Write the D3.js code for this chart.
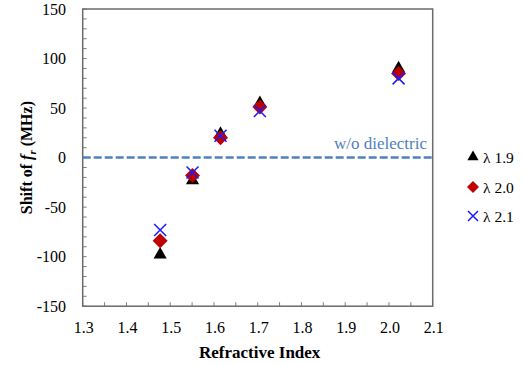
<!DOCTYPE html>
<html><head><meta charset="utf-8">
<script src="https://cdn.jsdelivr.net/npm/d3@7"></script>
</head><body style="margin:0">
<script>
const refractiveIndex = [1.477, 1.551, 1.615, 1.705, 2.022];
const lambda19 = [-97, -22, 25, 56, 91];
const lambda20 = [-84, -18, 20, 51, 85];
const lambda21 = [-73, -15, 22, 47, 80];
const seriesNames = ["λ 1.9", "λ 2.0", "λ 2.1"];
const xTicks = [1.3, 1.4, 1.5, 1.6, 1.7, 1.8, 1.9, 2.0, 2.1];
const yTicks = [-150, -100, -50, 0, 50, 100, 150];
const baseline = 0;
const baselineLabel = "w/o dielectric";

const W = 525, H = 365;
const FONT = '"Liberation Serif"';
const svg = d3.select("body").append("svg").attr("width", W).attr("height", H).style("display", "block");
const x = d3.scaleLinear().domain([1.3, 2.1]).range([82.7, 432.7]);
const y = d3.scaleLinear().domain([-150, 150]).range([306.2, 9]);

// minor ticks (inside)
const g = svg.append("g");
const xMinor = d3.range(1.3, 2.1001, 0.05);
const yMinor = d3.range(-150, 150.001, 10);
g.selectAll(".xt").data(xMinor).join("line")
  .attr("x1", d => x(d)).attr("x2", d => x(d))
  .attr("y1", y(-150)).attr("y2", y(-150) - 4)
  .attr("stroke", "#808080").attr("stroke-width", 1);
g.selectAll(".yt").data(yMinor).join("line")
  .attr("x1", x(1.3)).attr("x2", x(1.3) + 4)
  .attr("y1", d => y(d)).attr("y2", d => y(d))
  .attr("stroke", "#808080").attr("stroke-width", 1);

// box
svg.append("rect").attr("x", x(1.3)).attr("y", y(150))
  .attr("width", x(2.1) - x(1.3)).attr("height", y(-150) - y(150))
  .attr("fill", "none").attr("stroke", "#6b6b6b").attr("stroke-width", 1.5);

// tick labels
svg.selectAll(".xl").data(xTicks).join("text")
  .style("font-family", FONT)
  .attr("x", d => x(d) + 1).attr("y", 333)
  .attr("text-anchor", "middle").attr("font-size", 16).attr("fill", "#000")
  .text(d => d.toFixed(1));
svg.selectAll(".yl").data(yTicks).join("text")
  .style("font-family", FONT)
  .attr("x", 66).attr("y", d => y(d) + 5.5)
  .attr("text-anchor", "end").attr("font-size", 16).attr("fill", "#000")
  .text(d => d);

// axis titles
svg.append("text").style("font-family", FONT).attr("x", (x(1.3) + x(2.1)) / 2 + 2).attr("y", 358)
  .attr("text-anchor", "middle").attr("font-size", 17).attr("font-weight", "bold")
  .text("Refractive Index");
const yt = svg.append("text").style("font-family", FONT).attr("transform", `translate(32,${(y(150)+y(-150))/2}) rotate(-90)`)
  .attr("text-anchor", "middle").attr("font-size", 16).attr("font-weight", "bold");
yt.append("tspan").text("Shift of ");
yt.append("tspan").attr("font-style", "italic").text("f");
yt.append("tspan").attr("font-style", "italic").attr("font-size", 11).attr("dy", 4).text("r");
yt.append("tspan").attr("dy", -4).text(" (MHz)");

// baseline dashed
svg.append("line").attr("x1", x(1.3)).attr("x2", x(2.1)).attr("y1", y(baseline)).attr("y2", y(baseline))
  .attr("stroke", "#4f81bd").attr("stroke-width", 2.5).attr("stroke-dasharray", "8,3");
svg.append("text").style("font-family", FONT).attr("x", 427).attr("y", y(baseline) - 9)
  .attr("text-anchor", "end").attr("font-size", 17).attr("fill", "#4f81bd")
  .text(baselineLabel);

// markers
const tri = d3.symbol().type(d3.symbolTriangle).size(75);
const dia = (s) => `M0,${-s}L${s},0L0,${s}L${-s},0Z`;
function cross(sel, s) {
  sel.append("path").attr("d", `M${-s},${-s}L${s},${s}M${-s},${s}L${s},${-s}`)
    .attr("stroke", "#1a1aff").attr("stroke-width", 1.5).attr("fill", "none");
}
const pts = svg.append("g");
refractiveIndex.forEach((r, i) => {
  pts.append("path").attr("d", tri()).attr("transform", `translate(${x(r)},${y(lambda19[i]) + 1})`).attr("fill", "#000");
});
refractiveIndex.forEach((r, i) => {
  pts.append("path").attr("d", dia(7.5)).attr("transform", `translate(${x(r)},${y(lambda20[i])})`).attr("fill", "#c00000");
});
refractiveIndex.forEach((r, i) => {
  const gg = pts.append("g").attr("transform", `translate(${x(r)},${y(lambda21[i])})`);
  cross(gg, 6);
});

// legend
const ly = [157, 187, 216];
const lg = svg.append("g");
lg.append("path").attr("d", d3.symbol().type(d3.symbolTriangle).size(55)()).attr("transform", `translate(473,${ly[0]})`).attr("fill", "#000");
lg.append("path").attr("d", dia(6)).attr("transform", `translate(473,${ly[1]})`).attr("fill", "#c00000");
cross(lg.append("g").attr("transform", `translate(473,${ly[2]})`), 5);
seriesNames.forEach((n, i) => {
  lg.append("text").style("font-family", FONT).attr("x", 483).attr("y", ly[i] + 5.5).attr("font-size", 15.5).text(n);
});
</script></body></html>
